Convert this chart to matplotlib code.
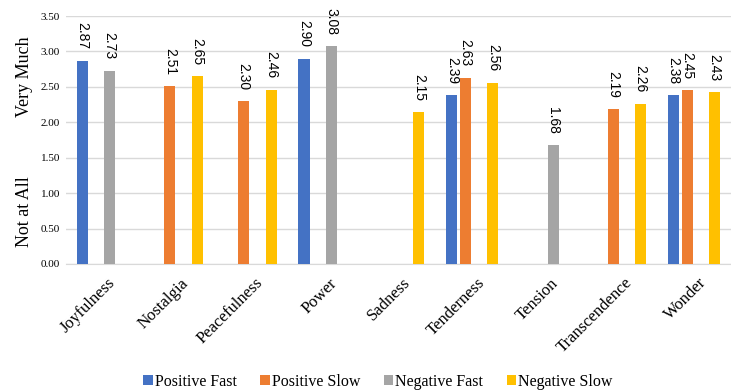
import numpy as np
import matplotlib.pyplot as plt
import matplotlib.transforms as mtransforms

# Mean ratings per emotion for each tempo/valence condition (nan = not reported)
emotions = ['Joyfulness', 'Nostalgia', 'Peacefulness', 'Power', 'Sadness',
            'Tenderness', 'Tension', 'Transcendence', 'Wonder']
positive_fast = [2.87, np.nan, np.nan, 2.90, np.nan, 2.39, np.nan, np.nan, 2.38]
positive_slow = [np.nan, 2.51, 2.30, np.nan, np.nan, 2.63, np.nan, 2.19, 2.45]
negative_fast = [2.73, np.nan, np.nan, 3.08, np.nan, np.nan, 1.68, np.nan, np.nan]
negative_slow = [np.nan, 2.65, 2.46, np.nan, 2.15, 2.56, np.nan, 2.26, 2.43]

series = [
    ('Positive Fast', positive_fast, '#4472C4'),
    ('Positive Slow', positive_slow, '#ED7D31'),
    ('Negative Fast', negative_fast, '#A5A5A5'),
    ('Negative Slow', negative_slow, '#FFC000'),
]

serif = 'Liberation Serif'

fig = plt.figure(figsize=(7.31, 3.91), dpi=100)
ax = fig.add_axes([0.090, 0.325, 0.910, 0.634])

x = np.arange(len(emotions))
slot = 0.185
width = 0.15
for i, (name, vals, color) in enumerate(series):
    pos = x + (i - 1.5) * slot
    vals = np.array(vals, dtype=float)
    ax.bar(pos, vals, width=width, color=color, label=name, zorder=3)
    for px, v in zip(pos, vals):
        if np.isnan(v):
            continue
        ax.annotate(f'{v:.2f}', (px, v), xytext=(0, 8), textcoords='offset points',
                    rotation=270, ha='center', va='bottom', fontsize=10,
                    family='Liberation Sans')

ax.set_xlim(-0.5, len(emotions) - 0.5)
ax.set_ylim(0, 3.5)
ax.set_yticks(np.arange(0, 3.51, 0.5))
ax.set_yticklabels([f'{t:.2f}' for t in np.arange(0, 3.51, 0.5)],
                   fontsize=8, family=serif)
ax.set_xticks(x)
ax.set_xticklabels(emotions, rotation=45, ha='right', rotation_mode='anchor',
                   fontsize=12, family=serif)
ax.tick_params(axis='both', length=0, pad=4)
ax.tick_params(axis='x', pad=8)
# nudge the slanted category names a little to the right
shift = mtransforms.ScaledTranslation(3 / 72, 0, fig.dpi_scale_trans)
for lbl in ax.get_xticklabels():
    lbl.set_transform(lbl.get_transform() + shift)
ax.grid(axis='y', color='#D9D9D9', lw=1, zorder=0)
for side in ['top', 'right', 'left']:
    ax.spines[side].set_visible(False)
ax.spines['bottom'].set_color('#D9D9D9')

# Two-ended scale description on the y axis
fig.text(0.033, 0.805, 'Very Much', rotation=90, ha='center', va='center',
         fontsize=13, family=serif)
fig.text(0.033, 0.46, 'Not at All', rotation=90, ha='center', va='center',
         fontsize=13, family=serif)

fig.legend(loc='center', bbox_to_anchor=(0.517, 0.024), ncol=4, frameon=False,
           prop={'family': serif, 'size': 11.5}, handlelength=0.6,
           handleheight=0.6, handletextpad=0.15, columnspacing=1.45)

fig.savefig('out.png', dpi=100)
